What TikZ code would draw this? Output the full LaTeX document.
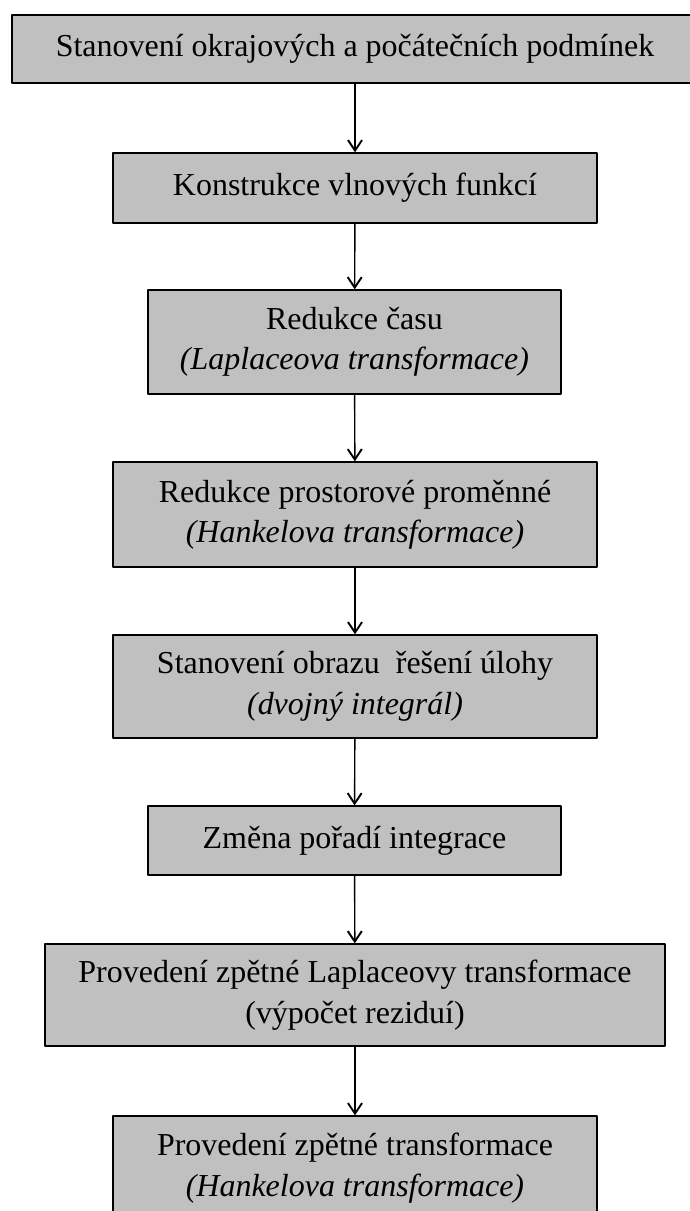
\documentclass[tikz,border=0pt]{standalone}
\usepackage{fontspec}
\setmainfont{Liberation Serif}
\usetikzlibrary{arrows.meta}
\definecolor{sediva}{HTML}{C0C0C0}
\begin{document}
\begin{tikzpicture}[x=0.02cm,y=-0.02cm,>={Straight Barb[length=6pt,width=8pt,line width=1.1pt]},line join=round,
	krok/.style={draw=black,line width=0.75pt,fill=sediva,inner sep=0pt,align=center,font=\fontsize{18.2}{23}\selectfont},
	sipka/.style={->,line width=0.8pt}]
	\useasboundingbox (0,0) rectangle (690,1211);
	\node[krok,minimum width=13.72cm,minimum height=1.36cm] (podm) at (355,49) {Stanovení okrajových a počátečních podmínek};
	\node[krok,minimum width=9.68cm,minimum height=1.4cm] (vlny) at (355,188) {Konstrukce vlnových funkcí};
	\node[krok,minimum width=8.26cm,minimum height=2.08cm] (cas) at (354.5,342) {Redukce času\\ \textit{(Laplaceova transformace)}};
	\node[krok,minimum width=9.68cm,minimum height=2.1cm] (prost) at (355,514.5) {Redukce prostorové proměnné\\ \textit{(Hankelova transformace)}};
	\node[krok,minimum width=9.68cm,minimum height=2.06cm] (obraz) at (355,686.5) {Stanovení obrazu~ řešení úlohy\\ \textit{(dvojný integrál)}};
	\node[krok,minimum width=8.26cm,minimum height=1.38cm] (poradi) at (354.5,840.5) {Změna pořadí integrace};
	\node[krok,minimum width=12.4cm,minimum height=2.04cm] (lapl) at (355,995) {Provedení zpětné Laplaceovy transformace\\ (výpočet reziduí)};
	\node[krok,minimum width=9.68cm,minimum height=2.08cm] (hank) at (355,1168) {Provedení zpětné transformace\\ \textit{(Hankelova transformace)}};
	% sipky mezi kroky
	\draw[sipka] (podm) -- (vlny);
	\draw[sipka] (vlny) -- (cas);
	\draw[sipka] (cas) -- (prost);
	\draw[sipka] (prost) -- (obraz);
	\draw[sipka] (obraz) -- (poradi);
	\draw[sipka] (poradi) -- (lapl);
	\draw[sipka] (lapl) -- (hank);
\end{tikzpicture}
\end{document}
